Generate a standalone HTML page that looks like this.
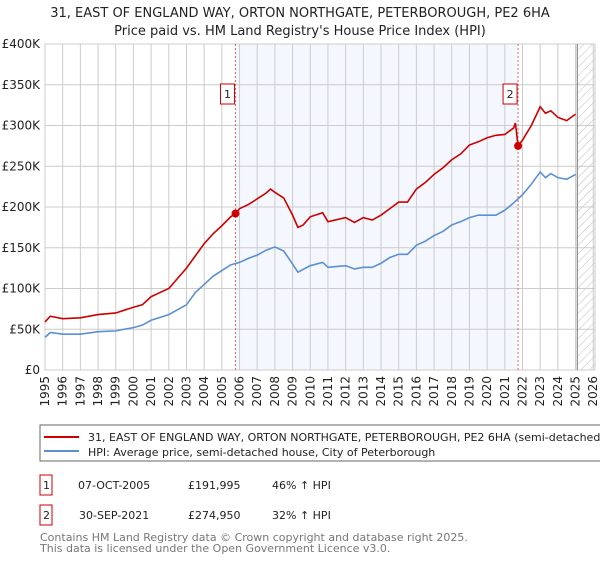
<!DOCTYPE html>
<html><head><meta charset="utf-8"><style>
body{margin:0;background:#fff;font-family:"Liberation Sans","DejaVu Sans",sans-serif;}
svg text{font-family:"DejaVu Sans","Liberation Sans",sans-serif;}
</style></head><body>
<svg id="chart" width="600" height="560" xmlns="http://www.w3.org/2000/svg">
<defs><pattern id="hatch" width="6" height="6" patternUnits="userSpaceOnUse" patternTransform="rotate(45)"><line x1="0" y1="0" x2="0" y2="6" stroke="#bbb" stroke-width="1"/></pattern></defs>
<text x="300" y="17" text-anchor="middle" font-size="13" fill="#222">31, EAST OF ENGLAND WAY, ORTON NORTHGATE, PETERBOROUGH, PE2 6HA</text>
<text x="300" y="35" text-anchor="middle" font-size="13" fill="#222">Price paid vs. HM Land Registry's House Price Index (HPI)</text>
<g id="plot"></g>
<rect x="40" y="425" width="565" height="36" fill="#fff" stroke="#666"/>
<line x1="44" y1="437" x2="79" y2="437" stroke="#cc0000" stroke-width="2"/>
<text x="88" y="441" font-size="11" fill="#222">31, EAST OF ENGLAND WAY, ORTON NORTHGATE, PETERBOROUGH, PE2 6HA (semi-detached h</text>
<line x1="44" y1="451" x2="79" y2="451" stroke="#5b8fd4" stroke-width="2"/>
<text x="88" y="456" font-size="11" fill="#222">HPI: Average price, semi-detached house, City of Peterborough</text>
<g font-size="11" fill="#222">
<rect x="40" y="475" width="12" height="20" fill="none" stroke="#cc0000"/>
<text x="43" y="489">1</text>
<text x="78" y="489">07-OCT-2005</text>
<text x="188" y="489">£191,995</text>
<text x="272" y="489">46% ↑ HPI</text>
<rect x="40" y="505" width="12" height="20" fill="none" stroke="#cc0000"/>
<text x="43" y="519">2</text>
<text x="79" y="519">30-SEP-2021</text>
<text x="188" y="519">£274,950</text>
<text x="272" y="519">32% ↑ HPI</text>
</g>
<text x="40" y="541" font-size="11" fill="#777">Contains HM Land Registry data © Crown copyright and database right 2025.</text>
<text x="40" y="552" font-size="11" fill="#777">This data is licensed under the Open Government Licence v3.0.</text>
</svg>
<script>
const hpiYears=[1995,1995.3,1996,1997,1998,1999,2000,2000.5,2001,2002,2003,2003.5,2004,2004.5,2005,2005.5,2006,2006.5,2007,2007.5,2008,2008.5,2009,2009.3,2010,2010.7,2011,2012,2012.5,2013,2013.5,2014,2014.5,2015,2015.5,2016,2016.5,2017,2017.5,2018,2018.5,2019,2019.5,2020,2020.5,2021,2021.5,2022,2022.5,2023,2023.3,2023.6,2024,2024.5,2025];
const hpiValues=[40,46,44,44,47,48,52,55,61,68,80,95,105,115,122,129,132,137,141,147,151,146,130,120,128,132,126,128,124,126,126,131,138,142,142,153,158,165,170,178,182,187,190,190,190,196,205,215,228,243,236,241,236,234,240];
const priceYears=[1995,1995.3,1996,1997,1998,1999,2000,2000.5,2001,2002,2003,2003.5,2004,2004.5,2005,2005.5,2005.77,2006,2006.5,2007,2007.5,2007.75,2008,2008.5,2009,2009.3,2009.6,2010,2010.7,2011,2012,2012.5,2013,2013.5,2014,2014.5,2015,2015.5,2016,2016.5,2017,2017.5,2018,2018.5,2019,2019.5,2020,2020.5,2021,2021.5,2021.6,2021.75,2022,2022.5,2023,2023.3,2023.6,2024,2024.5,2025];
const priceValues=[59,66,63,64,68,70,77,80,90,100,125,140,155,167,177,188,192,198,203,210,217,222,218,211,190,175,178,188,193,182,187,181,187,184,190,198,206,206,222,230,240,248,258,265,276,280,285,288,289,297,303,275,282,300,323,315,318,310,306,314];
const saleYears=[2005.77,2021.75];
const salePrices=[191.995,274.95];
const saleLabels=["1","2"];
const yTicks=[0,50,100,150,200,250,300,350,400];
const yTickLabels=["£0","£50K","£100K","£150K","£200K","£250K","£300K","£350K","£400K"];
const xTicks=[];for(let y=1995;y<=2026;y++)xTicks.push(y);

const L=45,R=595,T=44,B=370,x0=1995,x1=2026.1;
const xs=v=>L+(v-x0)/(x1-x0)*(R-L);
const ys=v=>B-v/400*(B-T);
const NS="http://www.w3.org/2000/svg";
const g=document.getElementById('plot');
function mk(tag,attrs){const e=document.createElementNS(NS,tag);for(const k in attrs)e.setAttribute(k,attrs[k]);g.appendChild(e);return e;}
let e;
e=mk('rect',{x:xs(saleYears[0]),y:T,width:xs(saleYears[1])-xs(saleYears[0]),height:B-T,fill:'#f4f7fe'});


e=mk('rect',{x:xs(2025.1),y:T,width:R-xs(2025.1),height:B-T,fill:'url(#hatch)'});


yTicks.forEach((v,i)=>{
 e=mk('line',{x1:L,x2:R,y1:ys(v),y2:ys(v),stroke:'#ccc'});
 
 
 e=mk('text',{x:L-5,y:ys(v)+4,'text-anchor':'end','font-size':'12',fill:'#222'});e.textContent=yTickLabels[i];
 
 
});
xTicks.forEach(v=>{
 e=mk('line',{x1:xs(v),x2:xs(v),y1:T,y2:B,stroke:'#ccc'});
 
 
 e=mk('text',{x:0,y:0,'text-anchor':'end','font-size':'12',fill:'#222',transform:`translate(${xs(v)+4},${B+6}) rotate(-90)`});e.textContent=v;
 
 
});
e=mk('rect',{x:L,y:T,width:R-L,height:B-T,fill:'none',stroke:'#ccc'});


e=mk('line',{x1:xs(2025.1),x2:xs(2025.1),y1:T,y2:B,stroke:'#888','stroke-width':1.2});


saleYears.forEach((s,i)=>{
 e=mk('line',{x1:xs(s),x2:xs(s),y1:T,y2:B,stroke:'#e06060','stroke-dasharray':'2,2'});
 
 
});
e=mk('polyline',{points:hpiYears.map((y,i)=>xs(y)+','+ys(hpiValues[i])).join(' '),fill:'none',stroke:'#5b8fd4','stroke-width':1.6});


e=mk('polyline',{points:priceYears.map((y,i)=>xs(y)+','+ys(priceValues[i])).join(' '),fill:'none',stroke:'#cc0000','stroke-width':1.6});


saleYears.forEach((s,i)=>{
 e=mk('circle',{cx:xs(s),cy:ys(salePrices[i]),r:4,fill:'#cc0000'});
 
 
 e=mk('rect',{x:xs(s)-15,y:84,width:14,height:20,fill:'#fff',stroke:'#cc0000'});
 
 
 e=mk('text',{x:xs(s)-8,y:98,'text-anchor':'middle','font-size':'11',fill:'#222'});e.textContent=saleLabels[i];
 
 
});
</script>
</body></html>
